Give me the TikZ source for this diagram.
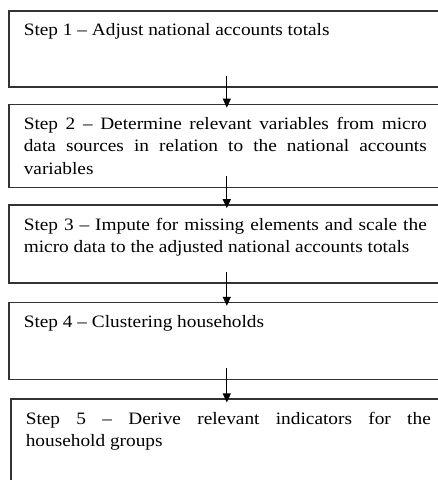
\documentclass[tikz,border=0pt]{standalone}
\usepackage{fontspec}
\setmainfont[FakeStretch=1.11]{Liberation Serif}
\usetikzlibrary{positioning,arrows.meta}

\begin{document}
\begin{tikzpicture}[x=1pt, y=1pt, node distance=17pt,
    stepbox/.style={draw=black!80, line width=1.6pt, rectangle, inner xsep=15pt, inner ysep=0pt,
      text width=403pt, align=justify, text height=25pt, font=\fontsize{17.4}{22.5}\selectfont},
    flow/.style={-{Triangle[length=9pt,width=8pt]}, line width=1.2pt}]
    \useasboundingbox (0,0) rectangle (438,-480);
    \node (step1) [stepbox, anchor=north west, text depth=51pt] at (8,-10) {Step 1 – Adjust national accounts totals};
    \node (step2) [stepbox, text depth=58pt, below=16pt of step1] {Step 2 – Determine relevant variables from micro\linebreak data sources in relation to the national accounts\linebreak variables};
    \node (step3) [stepbox, text depth=53pt, below=16pt of step2] {Step 3 – Impute for missing elements and scale the\linebreak micro data to the adjusted national accounts totals};
    \node (step4) [stepbox, text depth=52pt, below=18pt of step3] {Step 4 – Clustering households};
    \node (step5) [stepbox, text width=405pt, text depth=70pt, below=18pt of step4, xshift=3pt] {Step 5 – Derive relevant indicators for the\linebreak household groups};

    \draw[flow] ([xshift=1.5pt,yshift=12pt]step1.south) -- ([xshift=1.5pt,yshift=-4pt]step2.north);
    \draw[flow] ([xshift=1.5pt,yshift=12pt]step2.south) -- ([xshift=1.5pt,yshift=-4pt]step3.north);
    \draw[flow] ([xshift=1.5pt,yshift=12pt]step3.south) -- ([xshift=1.5pt,yshift=-4pt]step4.north);
    \draw[flow] ([xshift=1.5pt,yshift=12pt]step4.south) -- ([xshift=-1.5pt,yshift=-4pt]step5.north);
\end{tikzpicture}
\end{document}
